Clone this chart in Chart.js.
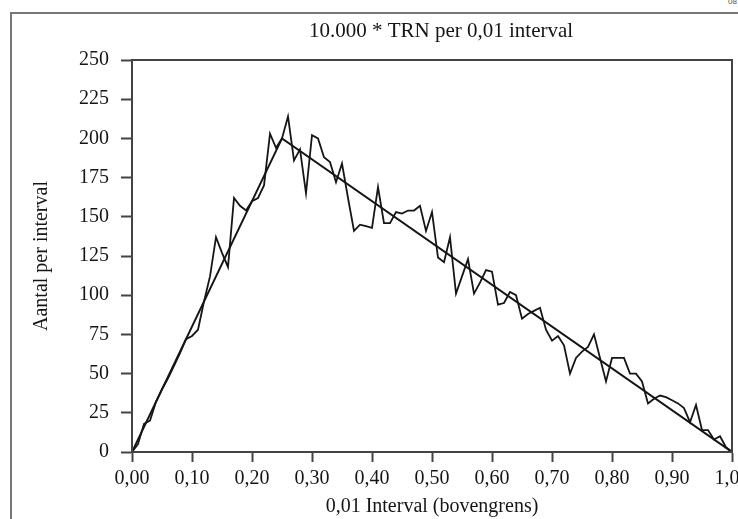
<!DOCTYPE html>
<html><head><meta charset="utf-8">
<script src="https://cdn.jsdelivr.net/npm/chart.js@4"></script>
<style>
html,body{margin:0;padding:0;background:#fff;}
#wrap{position:relative;width:738px;height:519px;overflow:hidden;}
#frame{position:absolute;left:10px;top:12px;width:740px;height:520px;border-left:2px solid #777;border-top:2px solid #777;}
#pg{position:absolute;left:728px;top:-3px;font:8px "Liberation Sans",sans-serif;color:#555;}
canvas{position:absolute;left:0;top:0;}
</style></head>
<body><div id="wrap"><div id="frame"></div><div id="pg">08</div><canvas id="c" width="738" height="519"></canvas></div>
<script>
const chartTitle = '10.000 * TRN per 0,01 interval';
const xAxisTitle = '0,01 Interval (bovengrens)';
const yAxisTitle = 'Aantal per interval';

const intervals = [0.00,0.01,0.02,0.03,0.04,0.05,0.06,0.07,0.08,0.09,
  0.10,0.11,0.12,0.13,0.14,0.15,0.16,0.17,0.18,0.19,
  0.20,0.21,0.22,0.23,0.24,0.25,0.26,0.27,0.28,0.29,
  0.30,0.31,0.32,0.33,0.34,0.35,0.36,0.37,0.38,0.39,
  0.40,0.41,0.42,0.43,0.44,0.45,0.46,0.47,0.48,0.49,
  0.50,0.51,0.52,0.53,0.54,0.55,0.56,0.57,0.58,0.59,
  0.60,0.61,0.62,0.63,0.64,0.65,0.66,0.67,0.68,0.69,
  0.70,0.71,0.72,0.73,0.74,0.75,0.76,0.77,0.78,0.79,
  0.80,0.81,0.82,0.83,0.84,0.85,0.86,0.87,0.88,0.89,
  0.90,0.91,0.92,0.93,0.94,0.95,0.96,0.97,0.98,0.99,1.00];

const counts = [0,5,18,20,32,40,47,55,63,72,
  74,78,96,112,137,127,118,162,157,154,
  160,162,170,203,194,200,214,186,193,165,
  202,200,188,185,172,184,162,141,145,144,
  143,169,146,146,153,152,154,154,157,141,
  153,124,121,137,101,112,123,101,108,116,
  115,94,95,102,100,85,88,90,92,78,
  71,74,68,50,60,64,67,75,60,45,
  60,60,60,50,50,45,31,34,36,35,
  33,31,28,19,30,14,14,8,10,3,0];

const trendX = [0.00, 0.25, 1.00];
const trendY = [0, 200, 0];

const xTickLabels = ['0,00','0,10','0,20','0,30','0,40','0,50','0,60','0,70','0,80','0,90','1,00'];
const yTickLabels = ['0','25','50','75','100','125','150','175','200','225','250'];

const serif = 'Liberation Serif';
const ink = '#151515';
const axisCol = '#444';

const framePlugin = {
  id: 'frameTitle',
  afterDraw(chart) {
    const {ctx, chartArea: a} = chart;
    ctx.save();
    ctx.strokeStyle = axisCol;
    ctx.lineWidth = 2;
    ctx.strokeRect(a.left, a.top, a.right - a.left, a.bottom - a.top);
    ctx.fillStyle = ink;
    ctx.font = '21px "' + serif + '"';
    ctx.textAlign = 'center';
    ctx.textBaseline = 'middle';
    ctx.fillText(chartTitle, 441, 31);
    ctx.restore();
  }
};

new Chart(document.getElementById('c'), {
  type: 'line',
  data: {
    datasets: [
      { label: 'Aantal', data: intervals.map((x, i) => ({x: x, y: counts[i]})),
        borderColor: ink, borderWidth: 1.8, pointRadius: 0, tension: 0, fill: false },
      { label: 'Theoretisch', data: trendX.map((x, i) => ({x: x, y: trendY[i]})),
        borderColor: ink, borderWidth: 2, pointRadius: 0, tension: 0, fill: false }
    ]
  },
  options: {
    responsive: false,
    animation: false,
    layout: { padding: { top: 60, right: 6, left: 0, bottom: 0 } },
    plugins: { legend: { display: false }, title: { display: false }, tooltip: { enabled: false } },
    scales: {
      x: {
        type: 'linear', min: 0, max: 1,
        ticks: { stepSize: 0.1, autoSkip: false, maxRotation: 0, padding: 5,
          callback: (v, i) => xTickLabels[i], color: ink, font: { family: serif, size: 20 } },
        grid: { drawOnChartArea: false, drawTicks: true, tickLength: 10, tickColor: axisCol, tickWidth: 2 },
        border: { display: true, color: axisCol, width: 2 },
        title: { display: true, text: xAxisTitle, color: ink, font: { family: serif, size: 20 }, padding: { top: 0, bottom: 0 } },
        afterFit(s) { s.height = 67; s.paddingLeft = 0; s.paddingRight = 0; }
      },
      y: {
        min: 0, max: 250,
        ticks: { stepSize: 25, padding: 12, callback: (v, i) => yTickLabels[i], color: ink, font: { family: serif, size: 20 } },
        grid: { drawOnChartArea: false, drawTicks: true, tickLength: 11, tickColor: axisCol, tickWidth: 2 },
        border: { display: true, color: axisCol, width: 2 },
        title: { display: true, text: yAxisTitle, color: ink, font: { family: serif, size: 20 }, padding: { top: 30, bottom: 0 } },
        afterFit(s) { s.width = 132; s.paddingTop = 0; s.paddingBottom = 0; }
      }
    }
  },
  plugins: [framePlugin]
});
</script>
</body></html>
